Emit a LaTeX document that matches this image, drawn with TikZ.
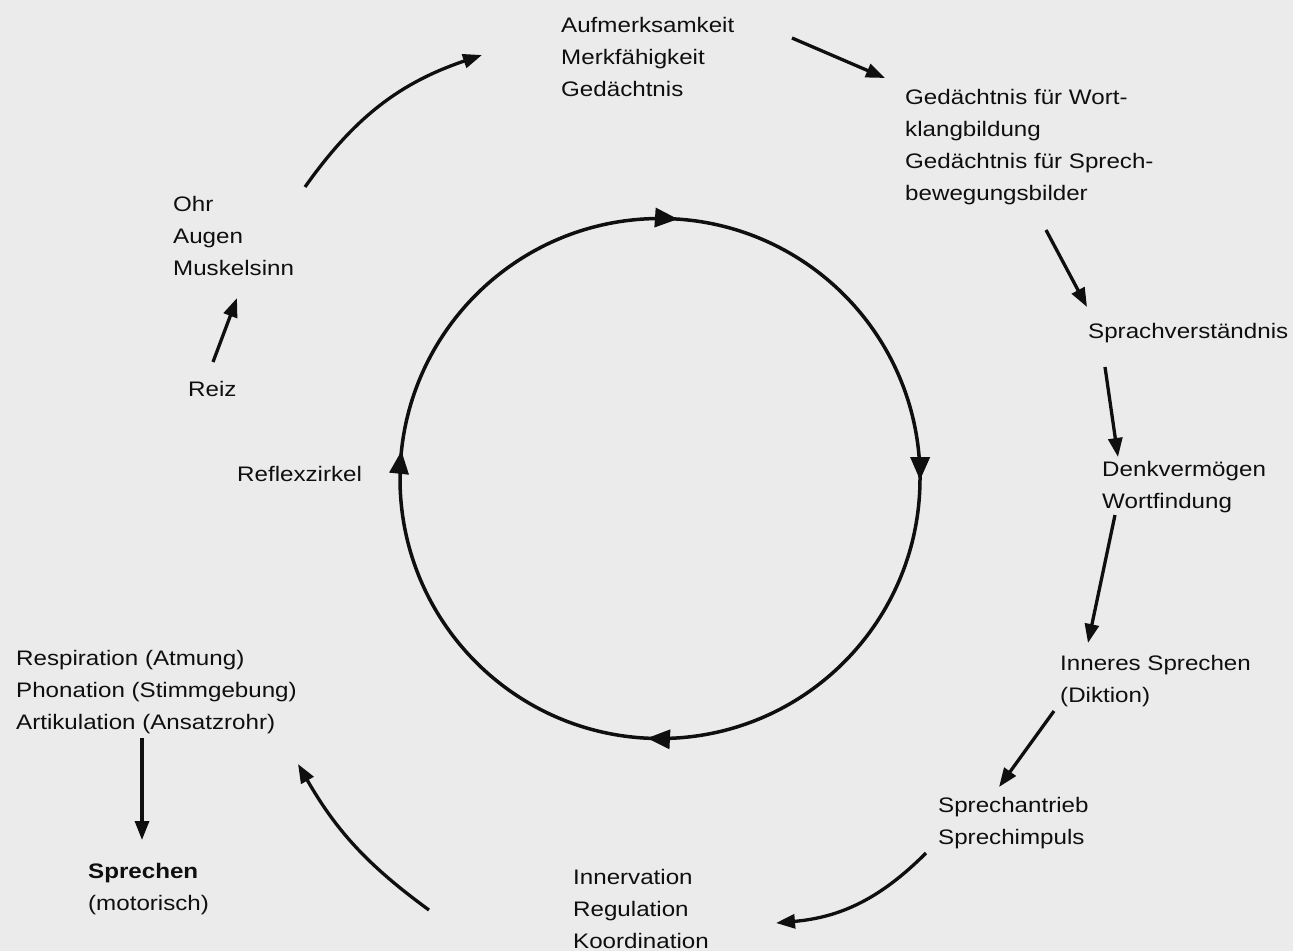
\documentclass[tikz,border=0pt]{standalone}
\usepackage{fontspec}
\setmainfont{Liberation Sans}[FakeStretch=1.15]
\usetikzlibrary{arrows.meta,decorations.markings}
\definecolor{paper}{HTML}{EBEBEB}
\definecolor{ink}{HTML}{0F0F0F}
\begin{document}
\begin{tikzpicture}[x=1pt,y=-1pt,
  lbl/.style={anchor=north west, inner sep=0pt, align=left, text=ink, font=\fontsize{21}{32}\selectfont},
  arr/.style={draw=ink, line width=3.3pt, -{Triangle[length=19pt,width=14pt]}},
  cyc/.style={draw=ink, line width=3.5pt},
  cychead/.style={decoration={markings,
      mark=at position 0.011 with {\arrow{Triangle[length=23pt,width=19pt]}},
      mark=at position 0.251 with {\arrow{Triangle[length=23pt,width=19pt]}},
      mark=at position 0.508 with {\arrow{Triangle[length=23pt,width=19pt]}},
      mark=at position 0.767 with {\arrow{Triangle[length=23pt,width=19pt]}}},
    postaction={decorate}, color=ink}
  ]
\fill[paper] (0,0) rectangle (1293,951);
\useasboundingbox (0,0) rectangle (1293,951);

% labels
\node[lbl] (aufm) at (561,17) {Aufmerksamkeit\\Merkfähigkeit\\Gedächtnis};
\node[lbl] (gedw) at (905,89) {Gedächtnis für Wort-\\klangbildung\\Gedächtnis für Sprech-\\bewegungsbilder};
\node[lbl] (ohr) at (173,196) {Ohr\\Augen\\Muskelsinn};
\node[lbl] (reiz) at (188,381) {Reiz};
\node[lbl] (refl) at (237,466) {Reflexzirkel};
\node[lbl] (sprv) at (1088,323) {Sprachverständnis};
\node[lbl] (denk) at (1102,461) {Denkvermögen\\Wortfindung};
\node[lbl] (inn) at (1060,655) {Inneres Sprechen\\(Diktion)};
\node[lbl] (antr) at (938,797) {Sprechantrieb\\Sprechimpuls};
\node[lbl] (innerv) at (573,869) {Innervation\\Regulation\\Koordination};
\node[lbl] (resp) at (16,650) {Respiration (Atmung)\\Phonation (Stimmgebung)\\Artikulation (Ansatzrohr)};
\node[lbl] (spr) at (88,863) {\textbf{Sprechen}\\(motorisch)};

% arrow end points
\coordinate (a1s) at (792,38);   \coordinate (a1e) at (885,78);
\coordinate (a2s) at (1046,230); \coordinate (a2e) at (1087,307);
\coordinate (a3s) at (1105,367); \coordinate (a3e) at (1118,457);
\coordinate (a4s) at (1115,515); \coordinate (a4e) at (1088,643);
\coordinate (a5s) at (1054,711); \coordinate (a5e) at (999,787);
\coordinate (a6s) at (926,853);  \coordinate (a6e) at (776,923);
\coordinate (a7s) at (429,910);  \coordinate (a7e) at (298,764);
\coordinate (a8s) at (142,738);  \coordinate (a8e) at (142,840);
\coordinate (a9s) at (213,362);  \coordinate (a9e) at (237,298);
\coordinate (a10s) at (305,187); \coordinate (a10e) at (482,55);

\draw[arr] (a1s) -- (a1e);
\draw[arr] (a2s) -- (a2e);
\draw[arr] (a3s) -- (a3e);
\draw[arr] (a4s) -- (a4e);
\draw[arr] (a5s) -- (a5e);
\draw[arr] (a6s) to[bend left=20] (a6e);
\draw[arr] (a7s) to[bend left=12] (a7e);
\draw[arr] (a8s) -- (a8e);
\draw[arr] (a9s) -- (a9e);
\draw[arr] (a10s) to[bend left=18] (a10e);

% central cycle
\coordinate (ctop) at (660,218.5);
\draw[cyc, cychead] (ctop) arc[start angle=-90, end angle=270, radius=260];
\end{tikzpicture}
\end{document}
